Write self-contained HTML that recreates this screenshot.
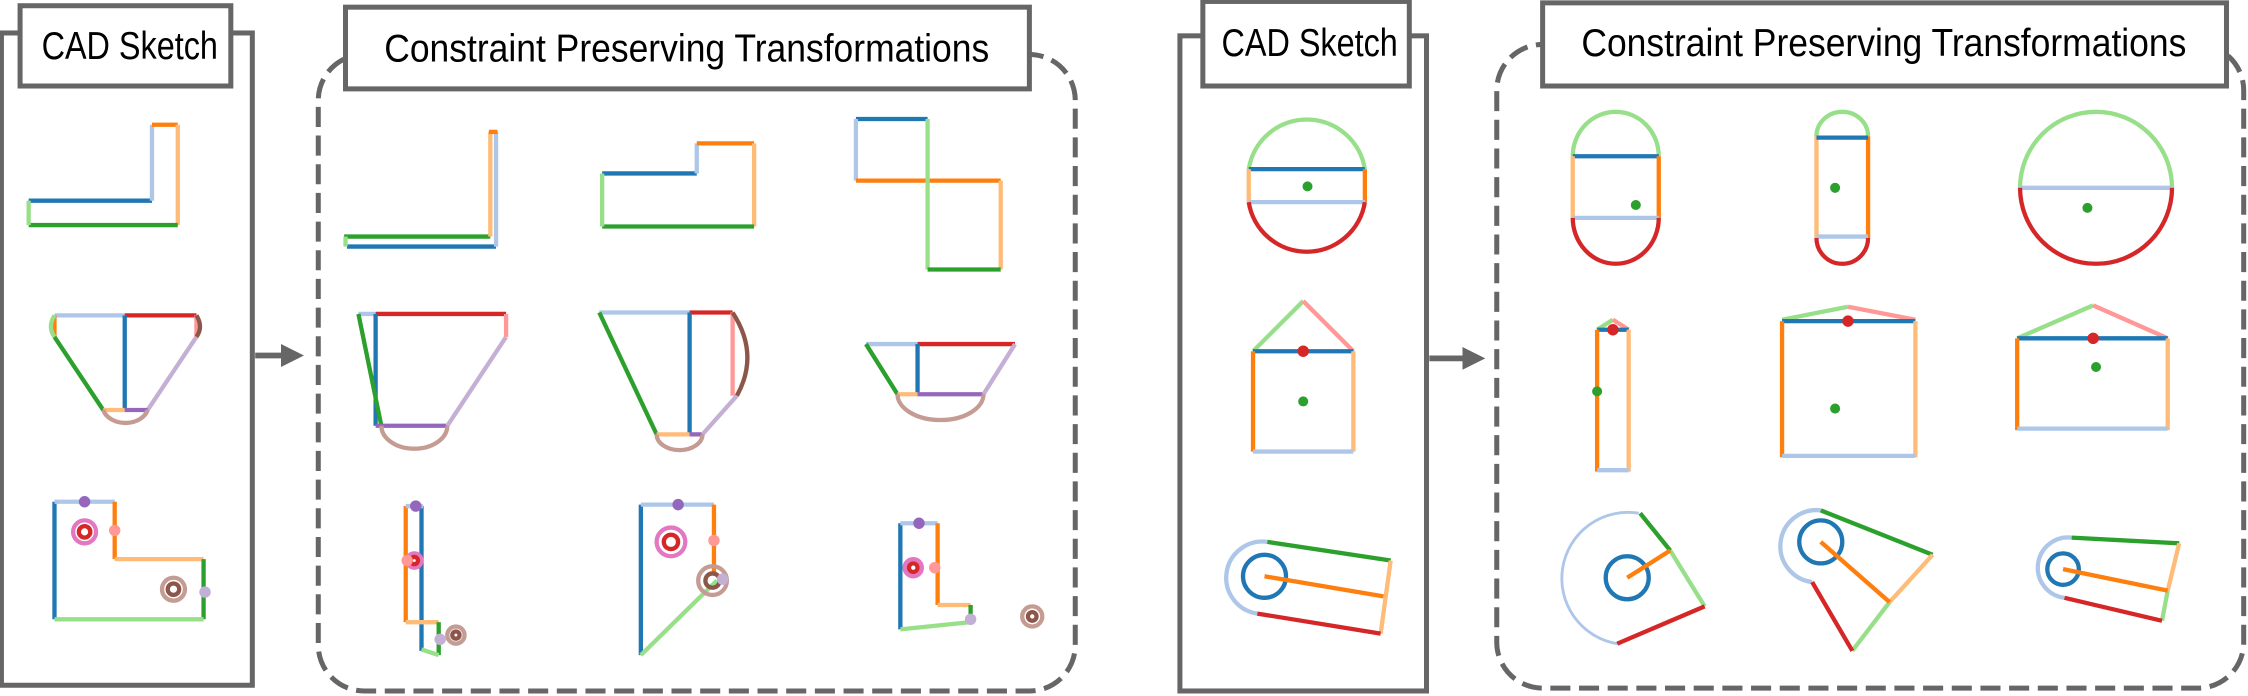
<!DOCTYPE html>
<html><head><meta charset="utf-8"><style>
html,body{margin:0;padding:0;background:#fff;}
svg{display:block;}
text{font-family:"Liberation Sans",sans-serif;fill:#000;}
</style></head><body>
<svg width="2248" height="696" viewBox="0 0 1568 485.5" preserveAspectRatio="none" xmlns="http://www.w3.org/2000/svg">
<defs>
<marker id="ah" markerWidth="4" markerHeight="4" refX="2" refY="2" orient="auto" markerUnits="strokeWidth"><path d="M0,0 L4,2 L0,4 z" fill="#666"/></marker>
</defs>
<g fill="none" stroke="#666" stroke-width="3.5">
<rect x="1" y="23" width="175" height="455"/>
<line x1="178" y1="248" x2="204" y2="248" stroke-width="4" marker-end="url(#ah)"/>
<rect x="222" y="38" width="528" height="444" rx="32" stroke-dasharray="14,6"/>
<rect x="823" y="25" width="172" height="457"/>
<line x1="997" y1="250" x2="1028" y2="250" stroke-width="4" marker-end="url(#ah)"/>
<rect x="1044" y="31" width="521" height="449" rx="32" stroke-dasharray="14,6"/>
</g>
<g fill="#fff" stroke="#666" stroke-width="3.5">
<rect x="14" y="4" width="147" height="56"/>
<rect x="241" y="5" width="477" height="57"/>
<rect x="839" y="1" width="144" height="59"/>
<rect x="1076" y="2" width="477" height="58"/>
</g>
<text x="29" y="41" font-size="27" textLength="123" lengthAdjust="spacingAndGlyphs">CAD Sketch</text>
<text x="268" y="43" font-size="27" textLength="422" lengthAdjust="spacingAndGlyphs">Constraint Preserving Transformations</text>
<text x="852" y="39" font-size="27" textLength="123" lengthAdjust="spacingAndGlyphs">CAD Sketch</text>
<text x="1103" y="39" font-size="27" textLength="422" lengthAdjust="spacingAndGlyphs">Constraint Preserving Transformations</text>

<g fill="none" stroke-width="3" stroke-linecap="butt">
<line x1="20" y1="140" x2="106" y2="140" stroke="#1f77b4"/>
<line x1="106" y1="140" x2="106" y2="87" stroke="#aec7e8"/>
<line x1="106" y1="87" x2="124" y2="87" stroke="#ff7f0e"/>
<line x1="124" y1="87" x2="124" y2="157" stroke="#ffbb78"/>
<line x1="20" y1="157" x2="124" y2="157" stroke="#2ca02c"/>
<line x1="20" y1="140" x2="20" y2="157" stroke="#98df8a"/>
<line x1="38" y1="220" x2="87" y2="220" stroke="#aec7e8"/>
<line x1="87" y1="220" x2="137" y2="220" stroke="#d62728"/>
<line x1="87" y1="220" x2="87" y2="286" stroke="#1f77b4"/>
<line x1="38" y1="220" x2="38" y2="235" stroke="#ff7f0e"/>
<path d="M38,220 Q33,228 38,235" stroke="#98df8a"/>
<line x1="38" y1="235" x2="72" y2="286" stroke="#2ca02c"/>
<line x1="137" y1="235" x2="103" y2="286" stroke="#c5b0d5"/>
<line x1="137" y1="220" x2="137" y2="235" stroke="#ff9896"/>
<path d="M137,220 Q142,228 137,235" stroke="#8c564b"/>
<line x1="72" y1="286" x2="87" y2="286" stroke="#ffbb78"/>
<line x1="87" y1="286" x2="103" y2="286" stroke="#9467bd"/>
<path d="M72,286 A16,12 0 0 0 103,286" stroke="#c49c94"/>
<line x1="38" y1="350" x2="38" y2="432" stroke="#1f77b4"/>
<line x1="38" y1="350" x2="80" y2="350" stroke="#aec7e8"/>
<line x1="80" y1="350" x2="80" y2="390" stroke="#ff7f0e"/>
<line x1="80" y1="390" x2="142" y2="390" stroke="#ffbb78"/>
<line x1="142" y1="390" x2="142" y2="432" stroke="#2ca02c"/>
<line x1="38" y1="432" x2="142" y2="432" stroke="#98df8a"/>
<circle cx="59" cy="371" r="8" stroke="#e377c2"/>
<circle cx="59" cy="371" r="4" stroke="#d62728"/>
<circle cx="121" cy="411" r="8" stroke="#c49c94"/>
<circle cx="121" cy="411" r="4" stroke="#8c564b"/>

<line x1="240" y1="165" x2="342" y2="165" stroke="#2ca02c"/>
<line x1="242" y1="172" x2="346" y2="172" stroke="#1f77b4"/>
<line x1="241" y1="165" x2="241" y2="172" stroke="#98df8a"/>
<line x1="342" y1="92" x2="342" y2="165" stroke="#ffbb78"/>
<line x1="346" y1="92" x2="346" y2="172" stroke="#aec7e8"/>
<line x1="341" y1="92" x2="347" y2="92" stroke="#ff7f0e"/>
<line x1="420" y1="121" x2="486" y2="121" stroke="#1f77b4"/>
<line x1="486" y1="121" x2="486" y2="100" stroke="#aec7e8"/>
<line x1="486" y1="100" x2="526" y2="100" stroke="#ff7f0e"/>
<line x1="526" y1="100" x2="526" y2="158" stroke="#ffbb78"/>
<line x1="420" y1="158" x2="526" y2="158" stroke="#2ca02c"/>
<line x1="420" y1="121" x2="420" y2="158" stroke="#98df8a"/>
<line x1="597" y1="83" x2="647" y2="83" stroke="#1f77b4"/>
<line x1="597" y1="83" x2="597" y2="126" stroke="#aec7e8"/>
<line x1="597" y1="126" x2="698" y2="126" stroke="#ff7f0e"/>
<line x1="647" y1="83" x2="647" y2="188" stroke="#98df8a"/>
<line x1="698" y1="126" x2="698" y2="188" stroke="#ffbb78"/>
<line x1="647" y1="188" x2="698" y2="188" stroke="#2ca02c"/>

<line x1="250" y1="219" x2="262" y2="219" stroke="#aec7e8"/>
<line x1="262" y1="219" x2="353" y2="219" stroke="#d62728"/>
<line x1="262" y1="219" x2="262" y2="297" stroke="#1f77b4"/>
<line x1="250" y1="219" x2="266" y2="297" stroke="#2ca02c"/>
<line x1="262" y1="297" x2="312" y2="297" stroke="#9467bd"/>
<line x1="353" y1="235" x2="312" y2="297" stroke="#c5b0d5"/>
<path d="M266,297 A23,16 0 0 0 312,297" stroke="#c49c94"/>
<line x1="353" y1="219" x2="353" y2="235" stroke="#ff9896"/>
<line x1="418" y1="218" x2="481" y2="218" stroke="#aec7e8"/>
<line x1="481" y1="218" x2="511" y2="218" stroke="#d62728"/>
<line x1="481" y1="218" x2="481" y2="303" stroke="#1f77b4"/>
<line x1="418" y1="218" x2="458" y2="303" stroke="#2ca02c"/>
<line x1="458" y1="303" x2="481" y2="303" stroke="#ffbb78"/>
<line x1="481" y1="303" x2="490" y2="303" stroke="#9467bd"/>
<line x1="490" y1="303" x2="514" y2="276" stroke="#c5b0d5"/>
<line x1="511" y1="218" x2="511" y2="276" stroke="#ff9896"/>
<path d="M511,218 Q530,247 514,276" stroke="#8c564b"/>
<path d="M458,303 A16,11 0 0 0 490,303" stroke="#c49c94"/>
<line x1="604" y1="240" x2="640" y2="240" stroke="#aec7e8"/>
<line x1="640" y1="240" x2="708" y2="240" stroke="#d62728"/>
<line x1="640" y1="240" x2="640" y2="275" stroke="#1f77b4"/>
<line x1="604" y1="240" x2="626" y2="275" stroke="#2ca02c"/>
<line x1="626" y1="275" x2="640" y2="275" stroke="#ffbb78"/>
<line x1="640" y1="275" x2="686" y2="275" stroke="#9467bd"/>
<line x1="708" y1="240" x2="686" y2="275" stroke="#c5b0d5"/>
<path d="M626,275 A30,18 0 0 0 686,275" stroke="#c49c94"/>

<line x1="283" y1="353" x2="283" y2="434" stroke="#ff7f0e"/>
<line x1="294" y1="353" x2="294" y2="454" stroke="#1f77b4"/>
<line x1="283" y1="353" x2="295" y2="353" stroke="#aec7e8"/>
<line x1="283" y1="434" x2="306" y2="434" stroke="#ffbb78"/>
<line x1="306" y1="434" x2="306" y2="457" stroke="#2ca02c"/>
<line x1="294" y1="453" x2="306" y2="457" stroke="#98df8a"/>
<circle cx="289" cy="391" r="5" stroke="#e377c2"/>
<circle cx="289" cy="391" r="2.5" stroke="#d62728"/>
<circle cx="318" cy="443" r="6" stroke="#c49c94"/>
<circle cx="318" cy="443" r="2.5" stroke="#8c564b"/>
<line x1="447" y1="352" x2="447" y2="457" stroke="#1f77b4"/>
<line x1="447" y1="352" x2="498" y2="352" stroke="#aec7e8"/>
<line x1="498" y1="352" x2="498" y2="400" stroke="#ff7f0e"/>
<line x1="447" y1="457" x2="500" y2="405" stroke="#98df8a"/>
<circle cx="468" cy="378" r="10" stroke="#e377c2"/>
<circle cx="468" cy="378" r="5" stroke="#d62728"/>
<circle cx="497" cy="405" r="10" stroke="#c49c94"/>
<circle cx="497" cy="405" r="5" stroke="#8c564b"/>
<line x1="628" y1="365" x2="628" y2="439" stroke="#1f77b4"/>
<line x1="628" y1="365" x2="654" y2="365" stroke="#aec7e8"/>
<line x1="654" y1="365" x2="654" y2="422" stroke="#ff7f0e"/>
<line x1="654" y1="422" x2="677" y2="422" stroke="#ffbb78"/>
<line x1="677" y1="422" x2="677" y2="433" stroke="#2ca02c"/>
<line x1="628" y1="439" x2="677" y2="434" stroke="#98df8a"/>
<circle cx="637" cy="396" r="6" stroke="#e377c2"/>
<circle cx="637" cy="396" r="3" stroke="#d62728"/>
<circle cx="720" cy="430" r="7" stroke="#c49c94"/>
<circle cx="720" cy="430" r="3" stroke="#8c564b"/>

<path d="M871,118 A41,41 0 0 1 952,118" stroke="#98df8a"/>
<line x1="871" y1="118" x2="952" y2="118" stroke="#1f77b4"/>
<line x1="871" y1="118" x2="871" y2="141" stroke="#ffbb78"/>
<line x1="952" y1="118" x2="952" y2="141" stroke="#ff7f0e"/>
<line x1="871" y1="141" x2="952" y2="141" stroke="#aec7e8"/>
<path d="M871,141 A41,41 0 0 0 952,141" stroke="#d62728"/>
<line x1="874" y1="245" x2="909" y2="210" stroke="#98df8a"/>
<line x1="909" y1="210" x2="944" y2="245" stroke="#ff9896"/>
<line x1="874" y1="245" x2="944" y2="245" stroke="#1f77b4"/>
<line x1="874" y1="245" x2="874" y2="315" stroke="#ff7f0e"/>
<line x1="944" y1="245" x2="944" y2="315" stroke="#ffbb78"/>
<line x1="874" y1="315" x2="944" y2="315" stroke="#aec7e8"/>
<circle cx="882" cy="402" r="15" stroke="#1f77b4"/>
<path d="M884,378 A25,25 0 0 0 877,428" stroke="#aec7e8"/>
<line x1="884" y1="378" x2="970" y2="391" stroke="#2ca02c"/>
<line x1="970" y1="391" x2="963" y2="442" stroke="#ffbb78"/>
<line x1="877" y1="428" x2="963" y2="442" stroke="#d62728"/>
<line x1="882" y1="402" x2="965" y2="416" stroke="#ff7f0e"/>

<path d="M1097,109 A30,31 0 0 1 1157,109" stroke="#98df8a"/>
<line x1="1097" y1="109" x2="1157" y2="109" stroke="#1f77b4"/>
<line x1="1097" y1="109" x2="1097" y2="152" stroke="#ffbb78"/>
<line x1="1157" y1="109" x2="1157" y2="152" stroke="#ff7f0e"/>
<line x1="1097" y1="152" x2="1157" y2="152" stroke="#aec7e8"/>
<path d="M1097,152 A30,32 0 0 0 1157,152" stroke="#d62728"/>
<path d="M1267,95 A18,17 0 0 1 1303,95" stroke="#98df8a"/>
<line x1="1267" y1="95" x2="1267" y2="166" stroke="#ffbb78"/>
<line x1="1303" y1="95" x2="1303" y2="166" stroke="#ff7f0e"/>
<line x1="1267" y1="96" x2="1303" y2="96" stroke="#1f77b4"/>
<line x1="1267" y1="165" x2="1303" y2="165" stroke="#aec7e8"/>
<path d="M1267,166 A18,18 0 0 0 1303,166" stroke="#d62728"/>
<path d="M1409,131 A53,53 0 0 1 1515,131" stroke="#98df8a"/>
<line x1="1409" y1="131" x2="1515" y2="131" stroke="#aec7e8"/>
<path d="M1409,131 A53,53 0 0 0 1515,131" stroke="#d62728"/>

<line x1="1114" y1="230" x2="1125" y2="223" stroke="#98df8a"/>
<line x1="1125" y1="223" x2="1136" y2="230" stroke="#ff9896"/>
<line x1="1114" y1="230" x2="1136" y2="230" stroke="#1f77b4"/>
<line x1="1114" y1="230" x2="1114" y2="329" stroke="#ff7f0e"/>
<line x1="1136" y1="230" x2="1136" y2="329" stroke="#ffbb78"/>
<line x1="1114" y1="328" x2="1136" y2="328" stroke="#aec7e8"/>
<line x1="1243" y1="223" x2="1289" y2="214" stroke="#98df8a"/>
<line x1="1289" y1="214" x2="1336" y2="223" stroke="#ff9896"/>
<line x1="1243" y1="224" x2="1336" y2="224" stroke="#1f77b4"/>
<line x1="1243" y1="224" x2="1243" y2="319" stroke="#ff7f0e"/>
<line x1="1336" y1="224" x2="1336" y2="319" stroke="#ffbb78"/>
<line x1="1243" y1="318" x2="1336" y2="318" stroke="#aec7e8"/>
<line x1="1407" y1="236" x2="1460" y2="213" stroke="#98df8a"/>
<line x1="1460" y1="213" x2="1512" y2="236" stroke="#ff9896"/>
<line x1="1407" y1="236" x2="1512" y2="236" stroke="#1f77b4"/>
<line x1="1407" y1="236" x2="1407" y2="300" stroke="#ff7f0e"/>
<line x1="1512" y1="236" x2="1512" y2="300" stroke="#ffbb78"/>
<line x1="1407" y1="299" x2="1512" y2="299" stroke="#aec7e8"/>

<circle cx="1135" cy="403" r="15" stroke="#1f77b4"/>
<path d="M1143,358 A46,46 0 1 0 1128,449" stroke="#aec7e8" stroke-width="2"/>
<line x1="1144" y1="358" x2="1165" y2="384" stroke="#2ca02c"/>
<line x1="1165" y1="384" x2="1189" y2="423" stroke="#98df8a"/>
<line x1="1189" y1="423" x2="1128" y2="449" stroke="#d62728"/>
<line x1="1135" y1="403" x2="1165" y2="384" stroke="#ff7f0e"/>
<circle cx="1270" cy="378" r="15" stroke="#1f77b4"/>
<path d="M1270,356 A22,22 0 0 0 1264,406" stroke="#aec7e8"/>
<line x1="1270" y1="356" x2="1348" y2="387" stroke="#2ca02c"/>
<line x1="1348" y1="387" x2="1318" y2="420" stroke="#ffbb78"/>
<line x1="1318" y1="420" x2="1292" y2="454" stroke="#98df8a"/>
<line x1="1292" y1="454" x2="1264" y2="406" stroke="#d62728"/>
<line x1="1270" y1="378" x2="1318" y2="420" stroke="#ff7f0e"/>
<circle cx="1439" cy="397" r="11" stroke="#1f77b4"/>
<path d="M1445,375 A21,21 0 0 0 1440,417" stroke="#aec7e8"/>
<line x1="1445" y1="375" x2="1520" y2="379" stroke="#2ca02c"/>
<line x1="1520" y1="379" x2="1512" y2="412" stroke="#ffbb78"/>
<line x1="1512" y1="412" x2="1508" y2="433" stroke="#98df8a"/>
<line x1="1440" y1="417" x2="1508" y2="433" stroke="#d62728"/>
<line x1="1439" y1="397" x2="1512" y2="412" stroke="#ff7f0e"/>
</g>

<g>
<circle cx="59" cy="350" r="4" fill="#9467bd"/>
<circle cx="80" cy="370" r="4" fill="#ff9896"/>
<circle cx="143" cy="413" r="4" fill="#c5b0d5"/>
<circle cx="290" cy="353" r="4" fill="#9467bd"/>
<circle cx="284" cy="391" r="4" fill="#ff9896"/>
<circle cx="307" cy="446" r="4" fill="#c5b0d5"/>
<circle cx="473" cy="352" r="4" fill="#9467bd"/>
<circle cx="498" cy="377" r="4" fill="#ff9896"/>
<circle cx="504" cy="404" r="4" fill="#c5b0d5"/>
<circle cx="641" cy="365" r="4" fill="#9467bd"/>
<circle cx="652" cy="396" r="4" fill="#ff9896"/>
<circle cx="677" cy="432" r="4" fill="#c5b0d5"/>
<circle cx="912" cy="130" r="3.5" fill="#2ca02c"/>
<circle cx="909" cy="245" r="4" fill="#d62728"/>
<circle cx="909" cy="280" r="3.5" fill="#2ca02c"/>
<circle cx="1141" cy="143" r="3.5" fill="#2ca02c"/>
<circle cx="1280" cy="131" r="3.5" fill="#2ca02c"/>
<circle cx="1456" cy="145" r="3.5" fill="#2ca02c"/>
<circle cx="1125" cy="230" r="4" fill="#d62728"/>
<circle cx="1114" cy="273" r="3.5" fill="#2ca02c"/>
<circle cx="1289" cy="224" r="4" fill="#d62728"/>
<circle cx="1280" cy="285" r="3.5" fill="#2ca02c"/>
<circle cx="1460" cy="236" r="4" fill="#d62728"/>
<circle cx="1462" cy="256" r="3.5" fill="#2ca02c"/>
</g>
</svg>
</body></html>
